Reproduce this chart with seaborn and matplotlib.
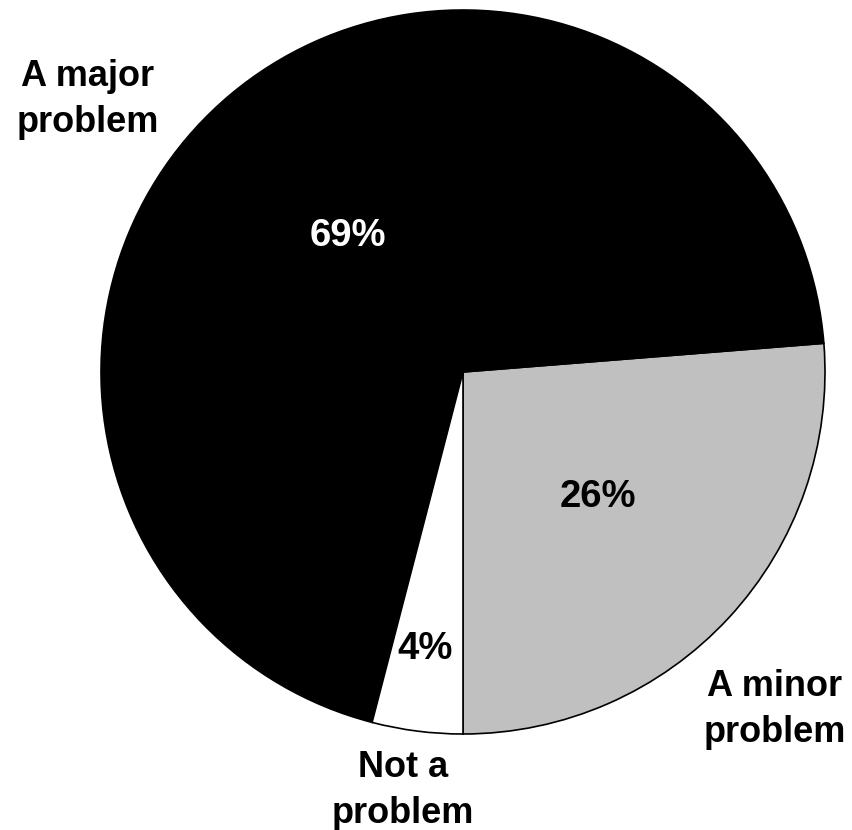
import matplotlib
matplotlib.use("Agg")
import matplotlib.pyplot as plt
import seaborn as sns

sns.set_theme(style="white")
plt.rcParams['font.family'] = ['Liberation Sans', 'DejaVu Sans']

labels = ['A minor\nproblem', 'A major\nproblem', 'Not a\nproblem']
values = [26, 69, 4]
pct_labels = ['26%', '69%', '4%']
colors = ['#c0c0c0', '#000000', '#ffffff']
pct_colors = ['black', 'white', 'black']

W, H = 852, 830
fig = plt.figure(figsize=(W / 100, H / 100), dpi=100)
ax = fig.add_axes([0, 0, 1, 1])

cx, cy, r = 463, H - 372, 362
ax.pie(values, colors=colors, startangle=-90, counterclock=True,
       center=(cx, cy), radius=r, frame=True,
       wedgeprops=dict(edgecolor='black', linewidth=1.2))
ax.set_xlim(0, W)
ax.set_ylim(0, H)
ax.set_aspect('equal')
ax.axis('off')

# outside labels: (x centre, last-line baseline) in pixels from top-left
label_pos = [(775, 742), (88, 132), (403, 823)]
for txt, (x, y) in zip(labels, label_pos):
    ax.text(x, H - y, txt, ha='center', va='baseline', fontsize=26,
            fontweight='bold', color='black', linespacing=1.42)

pct_pos = [(598, 507), (348, 246), (425, 659)]
for txt, (x, y), c in zip(pct_labels, pct_pos, pct_colors):
    ax.text(x, H - y, txt, ha='center', va='baseline', fontsize=27.5,
            fontweight='bold', color=c)

fig.savefig('out.png', dpi=100, facecolor='white')
